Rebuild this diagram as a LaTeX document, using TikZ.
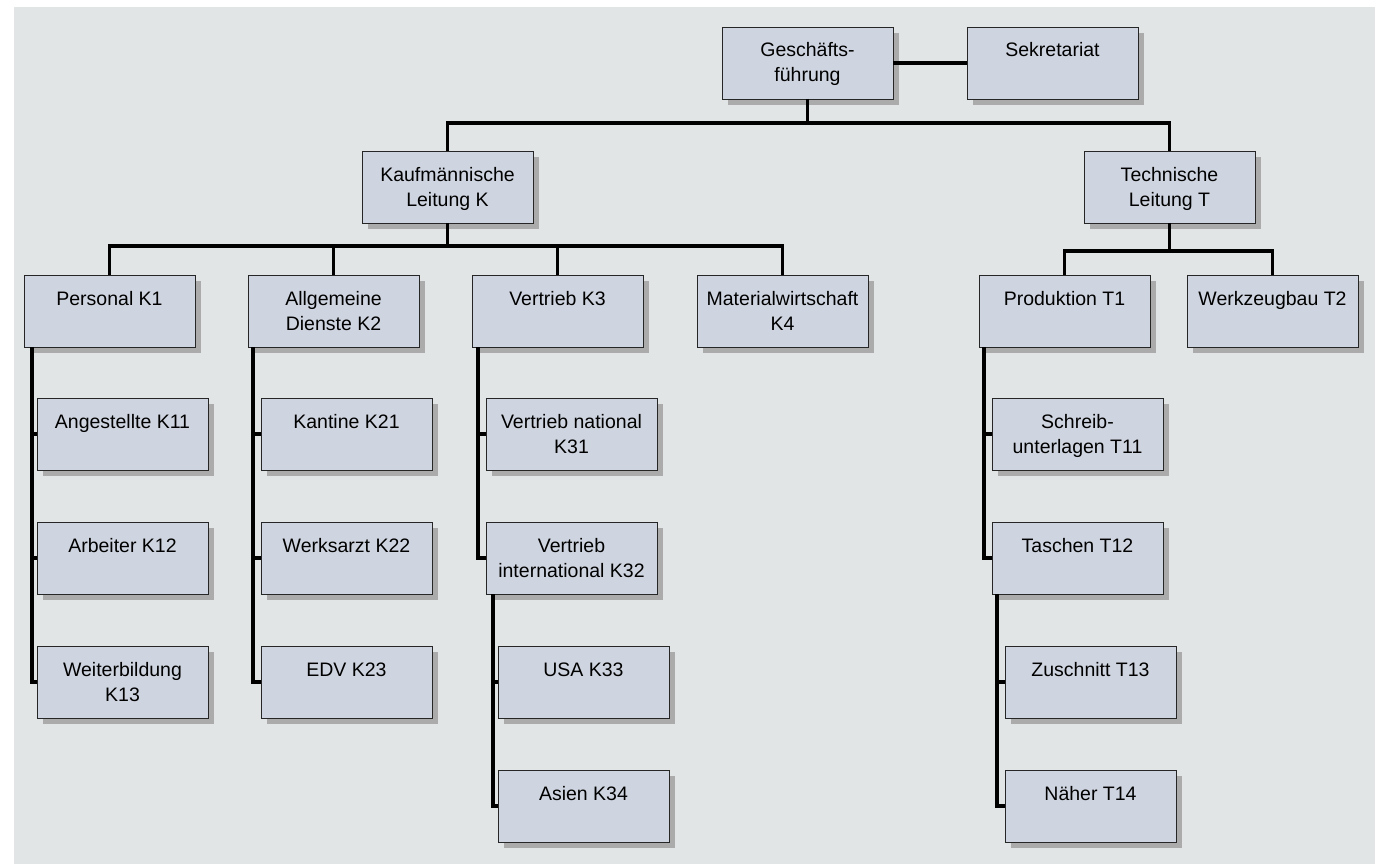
\documentclass[tikz,border=0pt]{standalone}
\usepackage{fontspec}
\setmainfont{Liberation Sans}
\usetikzlibrary{shadows}
\definecolor{bgcol}{HTML}{E1E5E6}
\definecolor{boxfill}{HTML}{CFD5E0}
\definecolor{shadowcol}{HTML}{ABABAB}
\newcommand{\bxt}[1]{\vbox to 72pt{\hsize=171pt\parindent=0pt\centering\vskip12.5pt\strut#1\par\vfill}}
\begin{document}
\begin{tikzpicture}[x=1pt,y=-1pt,
  orgbox/.style={draw=black!85, line width=0.8pt, fill=boxfill, inner sep=0pt, outer sep=0pt,
    anchor=north west, general shadow={fill=shadowcol, shadow xshift=6pt, shadow yshift=-6pt},
    font=\fontsize{19.5}{25}\selectfont},
  conn/.style={line width=3.5pt, black, line join=miter}]
\useasboundingbox (0,0) rectangle (1379,864);
\fill[bgcol] (14,7) rectangle (1375,864);

\node[orgbox] (gf)  at (722,27)  {\bxt{Geschäfts-\\führung}};
\node[orgbox] (sek) at (967,27)  {\bxt{Sekretariat}};
\node[orgbox] (k)   at (362,151) {\bxt{Kaufmännische\\Leitung K}};
\node[orgbox] (t)   at (1084,151){\bxt{Technische\\Leitung T}};

\node[orgbox] (k1) at (24,275)   {\bxt{Personal K1}};
\node[orgbox] (k2) at (248,275)  {\bxt{Allgemeine\\Dienste K2}};
\node[orgbox] (k3) at (472,275)  {\bxt{Vertrieb K3}};
\node[orgbox] (k4) at (697,275)  {\bxt{Materialwirtschaft\\K4}};
\node[orgbox] (t1) at (979,275)  {\bxt{Produktion T1}};
\node[orgbox] (t2) at (1187,275) {\bxt{Werkzeugbau T2}};

\node[orgbox] (k11) at (37,398)  {\bxt{Angestellte K11}};
\node[orgbox] (k12) at (37,522)  {\bxt{Arbeiter K12}};
\node[orgbox] (k13) at (37,646)  {\bxt{Weiterbildung\\K13}};

\node[orgbox] (k21) at (261,398) {\bxt{Kantine K21}};
\node[orgbox] (k22) at (261,522) {\bxt{Werksarzt K22}};
\node[orgbox] (k23) at (261,646) {\bxt{EDV K23}};

\node[orgbox] (k31) at (486,398) {\bxt{Vertrieb national\\K31}};
\node[orgbox] (k32) at (486,522) {\bxt{Vertrieb\\international K32}};
\node[orgbox] (k33) at (498,646) {\bxt{USA K33}};
\node[orgbox] (k34) at (498,770) {\bxt{Asien K34}};

\node[orgbox] (t11) at (992,398)  {\bxt{Schreib-\\unterlagen T11}};
\node[orgbox] (t12) at (992,522)  {\bxt{Taschen T12}};
\node[orgbox] (t13) at (1005,646) {\bxt{Zuschnitt T13}};
\node[orgbox] (t14) at (1005,770) {\bxt{Näher T14}};

% connectors
\coordinate (topbus) at (0,123);
\coordinate (kbus) at (0,246);
\coordinate (tbus) at (0,251);

\draw[conn] (gf.east) -- (sek.west);
\draw[conn] (gf.south) -- (gf.south |- topbus);
\draw[conn] (k.north) |- (t.north |- topbus) -- (t.north);

\draw[conn] (k.south) -- (k.south |- kbus);
\draw[conn] (k1.north) |- (k4.north |- kbus) -- (k4.north);
\draw[conn] (k2.north) -- (k2.north |- kbus);
\draw[conn] (k3.north) -- (k3.north |- kbus);

\draw[conn] (t.south) -- (t.south |- tbus);
\draw[conn] (t1.north) |- (t2.north |- tbus) -- (t2.north);

\coordinate (k1l) at ([xshift=8pt]k1.south west);
\draw[conn] (k1l) |- (k13.west);
\draw[conn] (k1l |- k11.west) -- (k11.west);
\draw[conn] (k1l |- k12.west) -- (k12.west);

\coordinate (k2l) at ([xshift=5pt]k2.south west);
\draw[conn] (k2l) |- (k23.west);
\draw[conn] (k2l |- k21.west) -- (k21.west);
\draw[conn] (k2l |- k22.west) -- (k22.west);

\coordinate (k3l) at ([xshift=6pt]k3.south west);
\draw[conn] (k3l) |- (k32.west);
\draw[conn] (k3l |- k31.west) -- (k31.west);

\coordinate (k32l) at ([xshift=7pt]k32.south west);
\draw[conn] (k32l) |- (k34.west);
\draw[conn] (k32l |- k33.west) -- (k33.west);

\coordinate (t1l) at ([xshift=5pt]t1.south west);
\draw[conn] (t1l) |- (t12.west);
\draw[conn] (t1l |- t11.west) -- (t11.west);

\coordinate (t12l) at ([xshift=5pt]t12.south west);
\draw[conn] (t12l) |- (t14.west);
\draw[conn] (t12l |- t13.west) -- (t13.west);
\end{tikzpicture}
\end{document}
